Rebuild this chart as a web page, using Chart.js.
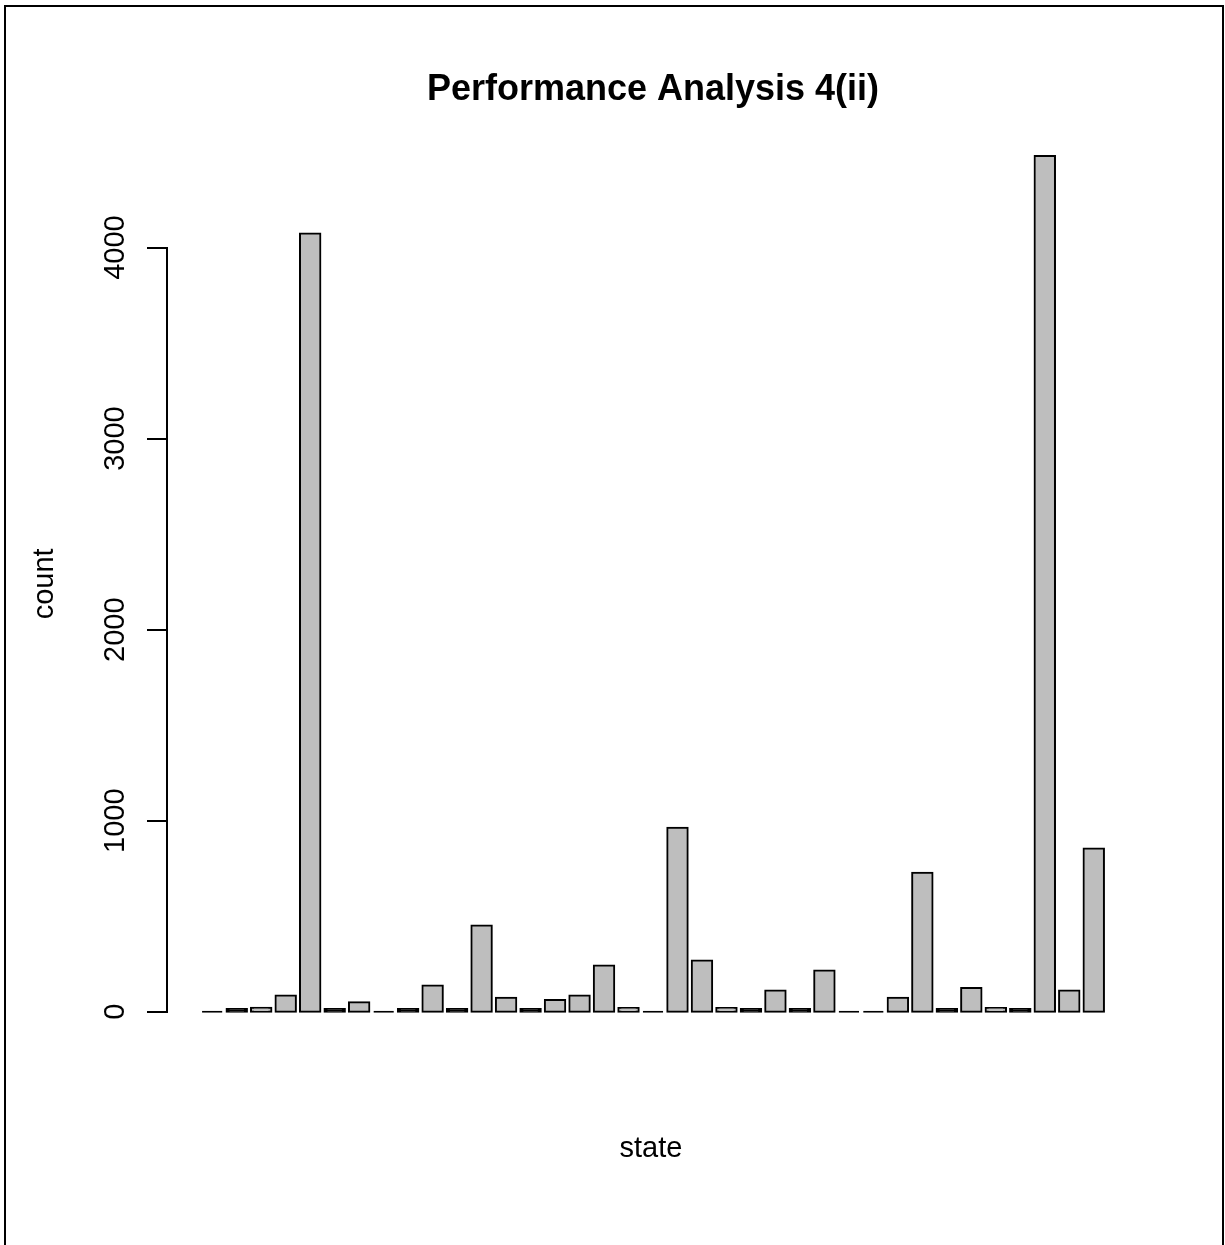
<!DOCTYPE html>
<html>
<head>
<meta charset="utf-8">
<title>Performance Analysis 4(ii)</title>
<script src="https://cdn.jsdelivr.net/npm/chart.js@4.4.0/dist/chart.umd.min.js"></script>
<style>
  html, body { margin: 0; padding: 0; background: #fff; overflow: hidden; }
  #wrap { position: relative; width: 1225px; height: 1245px; }
  #frame { position: absolute; left: 4px; top: 5px; width: 1216px; height: 1300px; border: 2px solid #000; pointer-events: none; }
  canvas { position: absolute; left: 0; top: 0; }
</style>
</head>
<body>
<div id="wrap">
  <canvas id="chart" width="1225" height="1245"></canvas>
  <div id="frame"></div>
</div>
<script>
// Values read off the reference barplot (no names shown on the x axis)
const states = ['S01', 'S02', 'S03', 'S04', 'S05', 'S06', 'S07', 'S08', 'S09', 'S10',
                'S11', 'S12', 'S13', 'S14', 'S15', 'S16', 'S17', 'S18', 'S19', 'S20',
                'S21', 'S22', 'S23', 'S24', 'S25', 'S26', 'S27', 'S28', 'S29', 'S30',
                'S31', 'S32', 'S33', 'S34', 'S35', 'S36', 'S37'];
const counts = [0, 15, 21, 85, 4073, 15, 50, 0, 15, 137,
                15, 451, 73, 15, 62, 85, 242, 20, 0, 963,
                268, 20, 15, 111, 15, 216, 0, 0, 73, 727,
                15, 125, 20, 15, 4479, 111, 855];
const yTicks = [0, 1000, 2000, 3000, 4000];

const chartTitle = 'Performance Analysis 4(ii)';
const xLabel = 'state';
const yLabel = 'count';

const FONT = "'Liberation Sans', Arial, sans-serif";
const maxCount = Math.max(...counts);

// R-style axis: the line only spans the tick range and sits left of the bars
const rAxes = {
    id: 'rAxes',
    afterDraw(chart) {
        const { ctx, chartArea, scales: { y } } = chart;
        const axisX = Math.round(chartArea.left - 33);
        const top = Math.round(y.getPixelForValue(yTicks[yTicks.length - 1]));
        const bottom = Math.round(y.getPixelForValue(yTicks[0]));

        ctx.save();
        ctx.strokeStyle = '#000';
        ctx.lineWidth = 2;
        ctx.beginPath();
        ctx.moveTo(axisX, top - 1);
        ctx.lineTo(axisX, bottom + 1);
        yTicks.forEach(t => {
            const py = Math.round(y.getPixelForValue(t));
            ctx.moveTo(axisX - 20, py);
            ctx.lineTo(axisX, py);
        });
        ctx.stroke();

        ctx.fillStyle = '#000';
        ctx.font = `29px ${FONT}`;
        ctx.textAlign = 'center';
        ctx.textBaseline = 'alphabetic';
        yTicks.forEach(t => {
            ctx.save();
            ctx.translate(axisX - 43, y.getPixelForValue(t));
            ctx.rotate(-Math.PI / 2);
            ctx.fillText(String(t), 0, 0);
            ctx.restore();
        });

        // axis titles
        const midY = (chartArea.top + chartArea.bottom) / 2;
        ctx.save();
        ctx.translate(53, midY);
        ctx.rotate(-Math.PI / 2);
        ctx.fillText(yLabel, 0, 0);
        ctx.restore();
        ctx.fillText(xLabel, (chartArea.left + chartArea.right) / 2 - 2, chartArea.bottom + 111);
        ctx.restore();
    }
};

new Chart(document.getElementById('chart'), {
    type: 'bar',
    data: {
        labels: states,
        datasets: [{
            data: counts,
            // very short bars are all outline in the original, so no grey shows
            backgroundColor: c => (c.raw < 18 ? '#000' : '#BEBEBE'),
            borderColor: '#000',
            borderWidth: 2,
            borderSkipped: false,
            inflateAmount: c => (c.raw === 0 ? 0 : 1),
            minBarLength: 2,
            barPercentage: 1 / 1.2,
            categoryPercentage: 1
        }]
    },
    options: {
        responsive: false,
        animation: false,
        devicePixelRatio: 1,
        layout: { padding: { top: 40, left: 200, right: 119, bottom: 199 } },
        plugins: {
            legend: { display: false },
            tooltip: { enabled: false },
            title: {
                display: true,
                text: chartTitle,
                color: '#000',
                font: { family: FONT, size: 36, weight: 'bold' },
                padding: { top: 28, bottom: 10.6 }
            }
        },
        scales: {
            x: { display: false },
            y: { display: false, min: -0.04 * maxCount, max: 1.04 * maxCount }
        }
    },
    plugins: [rAxes]
});
</script>
</body>
</html>
